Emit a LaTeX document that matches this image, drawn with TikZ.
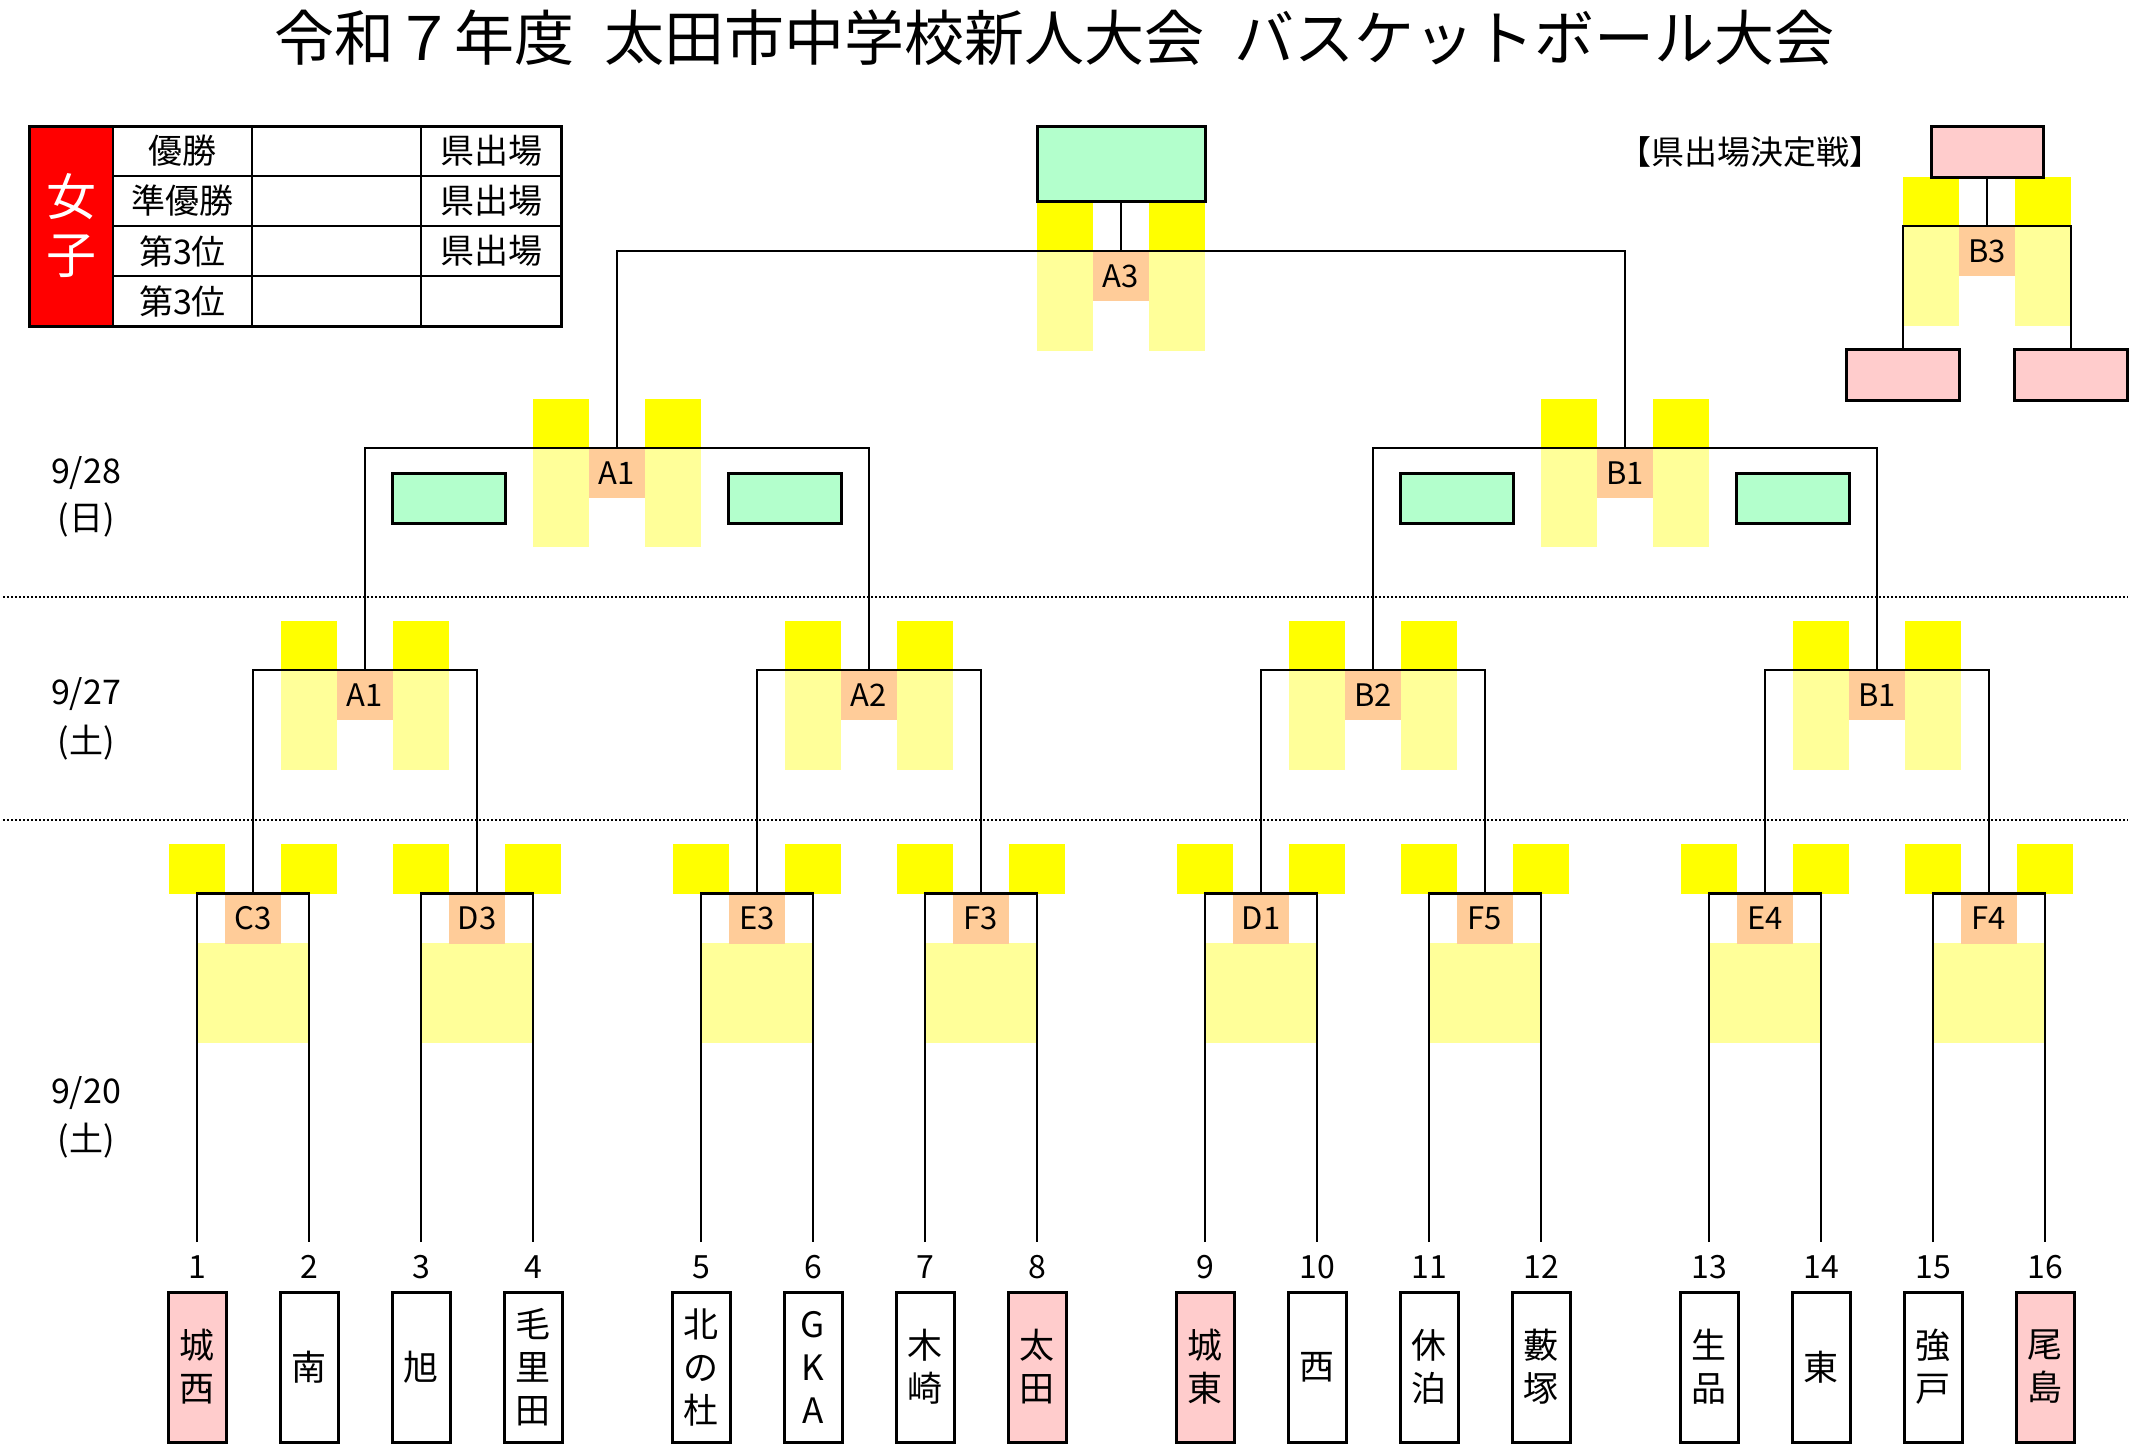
\documentclass[tikz,border=0pt]{standalone}
\usepackage{fontspec}
\setmainfont{Noto Sans CJK JP}
\definecolor{cyel}{RGB}{255,255,0}
\definecolor{clyel}{RGB}{255,255,153}
\definecolor{cpeach}{RGB}{255,204,153}
\definecolor{cgreen}{RGB}{179,255,204}
\definecolor{cpink}{RGB}{255,204,204}
\definecolor{cred}{RGB}{255,0,0}
\begin{document}
\begin{tikzpicture}[x=1pt,y=-1pt,
  brk/.style={line width=2.5pt},
  framed/.style={draw, line width=3pt, inner sep=0pt},
  peachlab/.style={fill=cpeach, minimum width=56pt, minimum height=50pt, inner sep=0pt, font=\fontsize{31}{36}\selectfont},
  teambox/.style={draw, line width=3pt, minimum width=58pt, minimum height=150pt, inner sep=0pt, align=center, font=\fontsize{35}{43}\selectfont},
  numlab/.style={font=\fontsize{32}{36}\selectfont, inner sep=0pt},
  datelab/.style={font=\fontsize{34}{40}\selectfont, inner sep=0pt},
  tabtxt/.style={font=\fontsize{34}{40}\selectfont, inner sep=0pt},
  dotline/.style={line width=2pt, dash pattern=on 2pt off 2pt},
]
\useasboundingbox (0,0) rectangle (2156,1456);

% title
\node[anchor=west, inner sep=0pt, font=\fontsize{60}{66}\selectfont] (title) at (274,38)
  {令和７年度\hspace{0.5em}太田市中学校新人大会\hspace{0.5em}バスケットボール大会};

% result table
\fill[cred] (29,126) rectangle (113,326);
\foreach \yy in {176,226,276} \draw[line width=2pt] (113,\yy) -- (561,\yy);
\foreach \xx in {113,252,421} \draw[line width=2pt] (\xx,126) -- (\xx,326);
\draw[line width=3pt] (29,126) rectangle (561,326);
\node[inner sep=0pt, text=white, align=center, font=\fontsize{50}{58}\selectfont] (girls) at (71,226) {女\\子};
\node[tabtxt] (r1) at (182.5,151) {優勝};
\node[tabtxt] (r2) at (182.5,201) {準優勝};
\node[tabtxt] (r3) at (182.5,251) {第3位};
\node[tabtxt] (r4) at (182.5,301) {第3位};
\node[tabtxt] (k1) at (491,151) {県出場};
\node[tabtxt] (k2) at (491,201) {県出場};
\node[tabtxt] (k3) at (491,251) {県出場};

% dates
\node[datelab] (d1a) at (86,473) {9/28};
\node[datelab] (d1b) at (86,520) {(日)};
\node[datelab] (d2a) at (86,694) {9/27};
\node[datelab] (d2b) at (86,743) {(土)};
\node[datelab] (d3a) at (86,1093) {9/20};
\node[datelab] (d3b) at (86,1141) {(土)};

% dotted separators
\draw[dotline] (3,597) -- (2128,597);
\draw[dotline] (3,820) -- (2128,820);

% ---------- fills ----------
% first round
\foreach \c/\lab/\nm in {253/C3/ra, 477/D3/rb, 757/E3/rc, 981/F3/rd, 1261/D1/re, 1485/F5/rf, 1765/E4/rg, 1989/F4/rh} {
  \fill[cyel] (\c-84,844) rectangle (\c-28,894);
  \fill[cyel] (\c+28,844) rectangle (\c+84,894);
  \fill[clyel] (\c-56,943) rectangle (\c+56,1043);
  \node[peachlab] (\nm) at (\c,918.5) {\lab};
}
% quarter finals
\foreach \c/\lab/\nm in {365/A1/qa, 869/A2/qb, 1373/B2/qc, 1877/B1/qd} {
  \fill[cyel] (\c-84,621) rectangle (\c-28,670);
  \fill[cyel] (\c+28,621) rectangle (\c+84,670);
  \fill[clyel] (\c-84,670) rectangle (\c-28,770);
  \fill[clyel] (\c+28,670) rectangle (\c+84,770);
  \node[peachlab] (\nm) at (\c,695) {\lab};
}
% semi finals
\foreach \c/\lab/\nm in {617/A1/sa, 1625/B1/sb} {
  \fill[cyel] (\c-84,399) rectangle (\c-28,448);
  \fill[cyel] (\c+28,399) rectangle (\c+84,448);
  \fill[clyel] (\c-84,448) rectangle (\c-28,547);
  \fill[clyel] (\c+28,448) rectangle (\c+84,547);
  \node[peachlab] (\nm) at (\c,473) {\lab};
}
\node[framed, fill=cgreen, minimum width=113pt, minimum height=50pt] (ga) at (448.5,498) {};
\node[framed, fill=cgreen, minimum width=113pt, minimum height=50pt] (gb) at (784.5,498) {};
\node[framed, fill=cgreen, minimum width=113pt, minimum height=50pt] (gc) at (1456.5,498) {};
\node[framed, fill=cgreen, minimum width=113pt, minimum height=50pt] (gd) at (1792.5,498) {};
% final
\fill[cyel] (1037,201) rectangle (1093,251);
\fill[cyel] (1149,201) rectangle (1205,251);
\fill[clyel] (1037,251) rectangle (1093,351);
\fill[clyel] (1149,251) rectangle (1205,351);
\node[peachlab] (fa) at (1121,276) {A3};
\node[framed, fill=cgreen, minimum width=168pt, minimum height=75pt] (champ) at (1121,163.5) {};
% third place decider
\node[inner sep=0pt, font=\fontsize{33}{36}\selectfont] (kenlab) at (1750,152) {【県出場決定戦】};
\fill[cyel] (1903,177) rectangle (1959,226);
\fill[cyel] (2015,177) rectangle (2071,226);
\fill[clyel] (1903,226) rectangle (1959,326);
\fill[clyel] (2015,226) rectangle (2071,326);
\node[peachlab] (tb) at (1987,251) {B3};
\node[framed, fill=cpink, minimum width=112pt, minimum height=51pt] (tbtop) at (1987,151.5) {};
\node[framed, fill=cpink, minimum width=113pt, minimum height=51pt] (tbl) at (1903,374.5) {};
\node[framed, fill=cpink, minimum width=113pt, minimum height=51pt] (tbr) at (2071,374.5) {};

% ---------- teams ----------
\foreach \i/\x/\nm/\fc in {1/197/{城\\西}/cpink, 2/309/{南}/white, 3/421/{旭}/white, 4/533/{毛\\里\\田}/white,
  5/701/{北\\の\\杜}/white, 6/813/{G\\K\\A}/white, 7/925/{木\\崎}/white, 8/1037/{太\\田}/cpink,
  9/1205/{城\\東}/cpink, 10/1317/{西}/white, 11/1429/{休\\泊}/white, 12/1541/{藪\\塚}/white,
  13/1709/{生\\品}/white, 14/1821/{東}/white, 15/1933/{強\\戸}/white, 16/2045/{尾\\島}/cpink} {
  \node[numlab] (n\i) at (\x,1267) {\i};
  \node[teambox, fill=\fc] (t\i) at (\x,1367) {\nm};
  \coordinate (p\i) at (\x,1242);
}

% ---------- bracket lines ----------
\foreach \m/\a/\b in {ra/1/2, rb/3/4, rc/5/6, rd/7/8, re/9/10, rf/11/12, rg/13/14, rh/15/16}
  \draw[brk] (p\a) |- (\m.north) -| (p\b);
\foreach \m/\a/\b in {qa/ra/rb, qb/rc/rd, qc/re/rf, qd/rg/rh}
  \draw[brk] (\a.north) |- (\m.north) -| (\b.north);
\draw[brk] (qa.north) |- (sa.north) -| (qb.north);
\draw[brk] (qc.north) |- (sb.north) -| (qd.north);
\draw[brk] (sa.north) |- (fa.north) -| (sb.north);
\draw[brk] (champ.south) -- (fa.north);
\draw[brk] (tbl.north) |- (tb.north) -| (tbr.north);
\draw[brk] (tbtop.south) -- (tb.north);
\end{tikzpicture}
\end{document}
